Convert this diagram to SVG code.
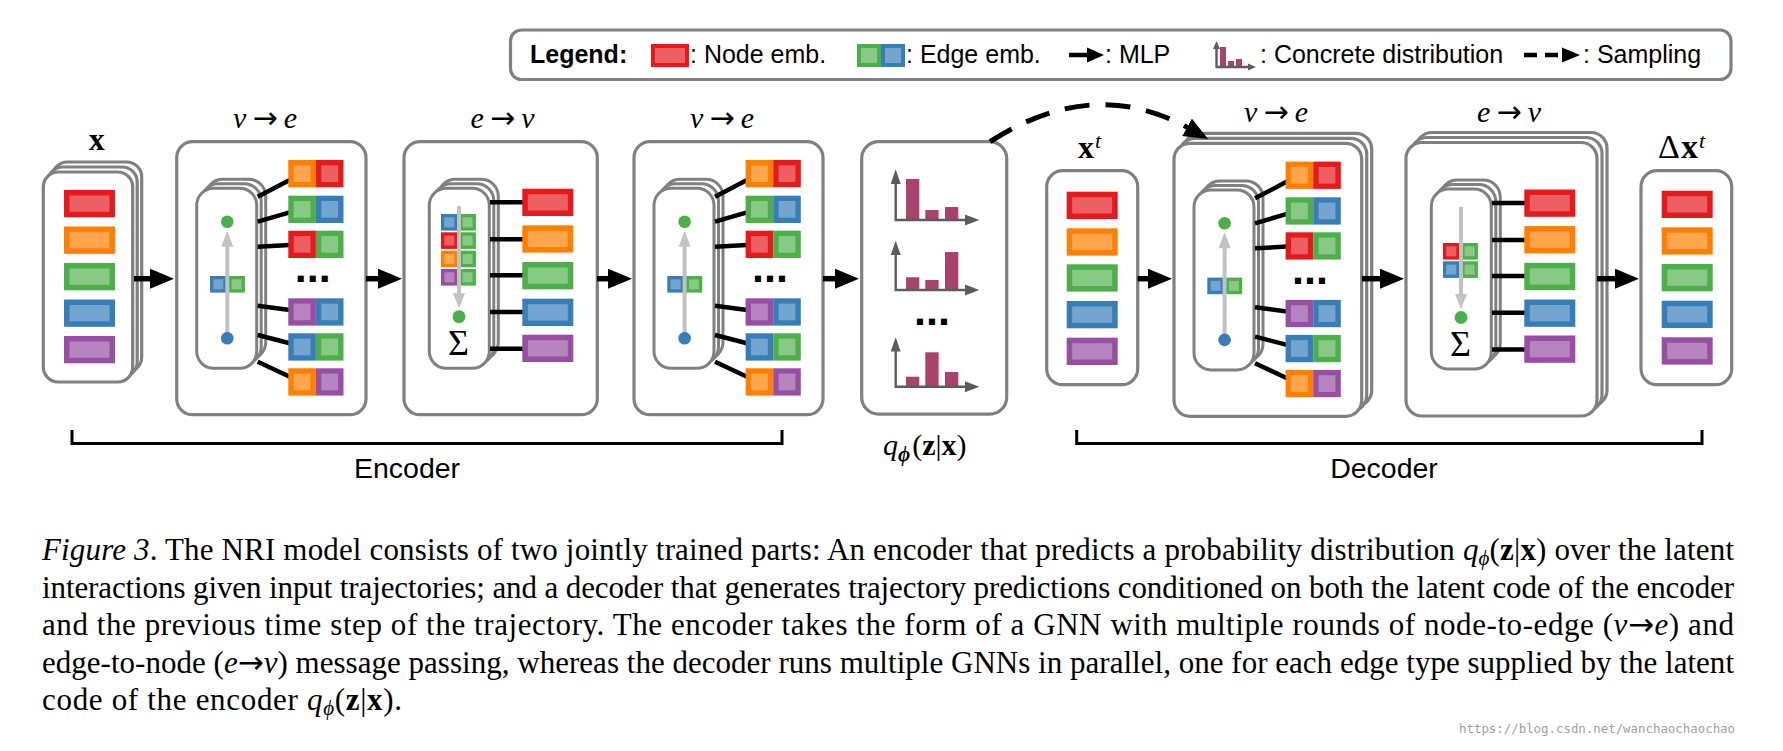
<svg xmlns="http://www.w3.org/2000/svg" width="1783" height="751" viewBox="0 0 1783 751">
<style>
.frame{fill:#fff;stroke:#808080;stroke-width:3.2}
.panel{fill:#fff;stroke:#808080;stroke-width:3}
.wire{stroke:#000;stroke-width:4.5;fill:none}
.mlp{stroke:#000;stroke-width:5.5;fill:none}
.samp{stroke:#000;stroke-width:5;fill:none;stroke-dasharray:25 16}
.gline{stroke:#c2c2c2;stroke-width:4}
.ghead{fill:#c2c2c2}
.ax{stroke:#5c5c5c;stroke-width:2.4;fill:none}
.axh{fill:#5c5c5c}
.bar{fill:#a8436e}
.sans{font-family:"Liberation Sans",Arial,sans-serif}
.serif{font-family:"Liberation Serif","DejaVu Serif",serif}
.it{font-style:italic}
.bf{font-weight:bold}
.arr{font-family:"DejaVu Sans","Liberation Serif",sans-serif;font-style:normal}
.lab{font-family:"Liberation Serif","DejaVu Serif",serif;font-size:30px;text-anchor:middle}
.dots{font-family:"Liberation Sans",Arial,sans-serif;font-weight:bold;font-size:43px;text-anchor:middle}
.sigma{font-family:"Liberation Serif","DejaVu Serif",serif;font-size:36px;text-anchor:middle}
.leg{font-family:"Liberation Sans",Arial,sans-serif;font-size:25px}
.part{font-family:"Liberation Sans",Arial,sans-serif;font-size:28.5px;text-anchor:middle}
.cap{font-family:"Liberation Serif","DejaVu Serif",serif;font-size:31px}
.brk{stroke:#000;stroke-width:3;fill:none}
.cR{fill:#e41a1c}.lR{fill:#ec5f62}
.cO{fill:#ff7f00}.lO{fill:#ffa64f}
.cG{fill:#4daf4a}.lG{fill:#88c986}
.cB{fill:#377eb8}.lB{fill:#73a5cf}
.cP{fill:#984ea3}.lP{fill:#b685bf}
</style>
<defs>
<marker id="ah" markerUnits="userSpaceOnUse" viewBox="0 0 24 20" markerWidth="24" markerHeight="20" refX="2" refY="10" orient="auto"><path d="M0,0 L24,10 L0,20 Z" fill="#000"/></marker>
<g id="nR"><rect class="cR" width="51" height="27.3"/><rect class="lR" x="5.5" y="5.5" width="40" height="16.3"/></g>
<g id="nO"><rect class="cO" width="51" height="27.3"/><rect class="lO" x="5.5" y="5.5" width="40" height="16.3"/></g>
<g id="nG"><rect class="cG" width="51" height="27.3"/><rect class="lG" x="5.5" y="5.5" width="40" height="16.3"/></g>
<g id="nB"><rect class="cB" width="51" height="27.3"/><rect class="lB" x="5.5" y="5.5" width="40" height="16.3"/></g>
<g id="nP"><rect class="cP" width="51" height="27.3"/><rect class="lP" x="5.5" y="5.5" width="40" height="16.3"/></g>
<g id="sR"><rect class="cR" width="27.6" height="27.3"/><rect class="lR" x="5.4" y="5.3" width="16.8" height="16.7"/></g>
<g id="sO"><rect class="cO" width="27.6" height="27.3"/><rect class="lO" x="5.4" y="5.3" width="16.8" height="16.7"/></g>
<g id="sG"><rect class="cG" width="27.6" height="27.3"/><rect class="lG" x="5.4" y="5.3" width="16.8" height="16.7"/></g>
<g id="sB"><rect class="cB" width="27.6" height="27.3"/><rect class="lB" x="5.4" y="5.3" width="16.8" height="16.7"/></g>
<g id="sP"><rect class="cP" width="27.6" height="27.3"/><rect class="lP" x="5.4" y="5.3" width="16.8" height="16.7"/></g>
<g id="tR"><rect class="cR" width="16.6" height="16.6"/><rect class="lR" x="3.3" y="3.3" width="10" height="10"/></g>
<g id="tO"><rect class="cO" width="16.6" height="16.6"/><rect class="lO" x="3.3" y="3.3" width="10" height="10"/></g>
<g id="tG"><rect class="cG" width="16.6" height="16.6"/><rect class="lG" x="3.3" y="3.3" width="10" height="10"/></g>
<g id="tB"><rect class="cB" width="16.6" height="16.6"/><rect class="lB" x="3.3" y="3.3" width="10" height="10"/></g>
<g id="tP"><rect class="cP" width="16.6" height="16.6"/><rect class="lP" x="3.3" y="3.3" width="10" height="10"/></g>
<g id="v2e">
<rect class="panel" x="29" y="37.6" width="60" height="180" rx="17"/>
<rect class="panel" x="24.5" y="42.1" width="60" height="180" rx="17"/>
<rect class="panel" x="20" y="46.6" width="60" height="180" rx="17"/>
<use href="#tB" x="33.3" y="134.3"/>
<use href="#tG" x="51.6" y="134.3"/>
<line class="gline" x1="50.6" y1="196" x2="50.6" y2="104"/>
<path class="ghead" d="M44.6,105 L50.6,89 L56.6,105 Z"/>
<circle class="cG" cx="50.6" cy="80" r="6.3"/>
<circle class="cB" cx="50.6" cy="196.6" r="6.3"/>
<path class="wire" d="M81,55 L113,38.3 M81,80 L113,70.6 M81,105 L113,103.3 M81,164 L113,168.3 M81,193.3 L113,201.6 M81,220 L113,235"/>
<use href="#sO" x="111.6" y="18.3"/><use href="#sR" x="139.2" y="18.3"/>
<use href="#sG" x="111.6" y="54"/><use href="#sB" x="139.2" y="54"/>
<use href="#sR" x="111.6" y="89"/><use href="#sG" x="139.2" y="89"/>
<use href="#sP" x="111.6" y="156.6"/><use href="#sB" x="139.2" y="156.6"/>
<use href="#sB" x="111.6" y="191.6"/><use href="#sG" x="139.2" y="191.6"/>
<use href="#sO" x="111.6" y="226.6"/><use href="#sP" x="139.2" y="226.6"/>
<text class="dots" x="136" y="140.8">...</text>
</g>
<g id="e2vP">
<rect class="panel" x="34.3" y="37.6" width="60" height="180" rx="17"/>
<rect class="panel" x="29.8" y="42.1" width="60" height="180" rx="17"/>
<rect class="panel" x="25.3" y="46.6" width="60" height="180" rx="17"/>
</g>
<g id="e2vT">
<line class="gline" x1="55" y1="64.3" x2="55" y2="152.6"/>
<path class="ghead" d="M49,151.6 L55,166.6 L61,151.6 Z"/>
<circle class="cG" cx="55" cy="175" r="6.5"/>
<text class="sigma" x="54.5" y="213.3">Σ</text>
<path class="wire" d="M86,60.6 H119 M86,97.6 H119 M86,133.6 H119 M86,170.3 H119 M86,207 H119"/>
<use href="#nR" x="118.3" y="47"/>
<use href="#nO" x="118.3" y="83.6"/>
<use href="#nG" x="118.3" y="120.3"/>
<use href="#nB" x="118.3" y="157"/>
<use href="#nP" x="118.3" y="193"/>
</g>
</defs>
<rect width="1783" height="751" fill="#fff"/>

<g id="legend">
<rect class="frame" x="510.5" y="30" width="1220.5" height="49.5" rx="11"/>
<text class="leg bf" x="530" y="63">Legend:</text>
<rect class="cR" x="651" y="44" width="38" height="23"/><rect class="lR" x="655" y="48" width="30" height="15"/>
<text class="leg" x="690" y="63">: Node emb.</text>
<rect class="cG" x="857" y="44" width="24" height="23"/><rect class="lG" x="861" y="48" width="16" height="15"/>
<rect class="cB" x="881" y="44" width="24" height="23"/><rect class="lB" x="885" y="48" width="16" height="15"/>
<text class="leg" x="906" y="63">: Edge emb.</text>
<line x1="1069" y1="55" x2="1089" y2="55" stroke="#000" stroke-width="4.5"/>
<path d="M1087,47.5 L1104,55 L1087,62.5 Z" fill="#000"/>
<text class="leg" x="1105" y="63">: MLP</text>
<rect class="bar" x="1220" y="47" width="6" height="20"/>
<rect class="bar" x="1228" y="61" width="6" height="6"/>
<rect class="bar" x="1236" y="59" width="6" height="8"/>
<path class="ax" d="M1216.5,67 V48 M1215.5,67 H1249"/>
<path class="axh" d="M1213,49 L1216.5,41 L1220,49 Z M1248,63.5 L1256,67 L1248,70.5 Z"/>
<text class="leg" x="1260" y="63">: Concrete distribution</text>
<line x1="1524" y1="55" x2="1560" y2="55" stroke="#000" stroke-width="4.5" stroke-dasharray="13 8"/>
<path d="M1562,47.5 L1580,55 L1562,62.5 Z" fill="#000"/>
<text class="leg" x="1583" y="63">: Sampling</text>
</g>

<g id="input-x">
<text class="serif bf" x="96.7" y="150" font-size="32" text-anchor="middle">x</text>
<rect class="frame" x="52.3" y="162" width="89.4" height="210" rx="15"/>
<rect class="frame" x="47.8" y="167" width="89.4" height="210" rx="15"/>
<rect class="frame" x="43.3" y="172" width="89.4" height="210" rx="15"/>
<use href="#nR" x="64" y="190"/>
<use href="#nO" x="64" y="226.5"/>
<use href="#nG" x="64" y="263"/>
<use href="#nB" x="64" y="299.5"/>
<use href="#nP" x="64" y="336"/>
</g>

<g id="enc-v2e-1">
<text class="lab" x="265" y="128" textLength="64" lengthAdjust="spacing"><tspan class="it">v</tspan><tspan class="arr">→</tspan><tspan class="it">e</tspan></text>
<g transform="translate(176.7,141.7)">
<rect class="frame" x="0" y="0" width="189.3" height="273" rx="16"/>
<use href="#v2e"/>
</g>
</g>

<g id="enc-e2v">
<text class="lab" x="502.5" y="128" textLength="64" lengthAdjust="spacing"><tspan class="it">e</tspan><tspan class="arr">→</tspan><tspan class="it">v</tspan></text>
<g transform="translate(404,141.7)">
<rect class="frame" x="0" y="0" width="193.3" height="273" rx="16"/>
<use href="#e2vP"/>
<use href="#tB" x="37" y="72.3"/><use href="#tG" x="55.3" y="72.3"/>
<use href="#tR" x="37" y="90.6"/><use href="#tG" x="55.3" y="90.6"/>
<use href="#tO" x="37" y="109"/><use href="#tG" x="55.3" y="109"/>
<use href="#tP" x="37" y="127.3"/><use href="#tG" x="55.3" y="127.3"/>
<use href="#e2vT"/>
</g>
</g>

<g id="enc-v2e-2">
<text class="lab" x="722" y="128" textLength="64" lengthAdjust="spacing"><tspan class="it">v</tspan><tspan class="arr">→</tspan><tspan class="it">e</tspan></text>
<g transform="translate(634,141.7)">
<rect class="frame" x="0" y="0" width="189" height="273" rx="16"/>
<use href="#v2e"/>
</g>
</g>

<g id="latent-dist">
<rect class="frame" x="861.7" y="141.7" width="145" height="272.5" rx="17"/>
<rect class="bar" x="906" y="179" width="13.3" height="41"/>
<rect class="bar" x="925.3" y="210" width="13.3" height="10"/>
<rect class="bar" x="945" y="207" width="13.3" height="13"/>
<path class="ax" d="M895.7,221 V183 M894.5,220 H966"/>
<path class="axh" d="M890.7,184 L895.7,169.3 L900.7,184 Z M965,214.5 L979.3,220 L965,225.5 Z"/>
<rect class="bar" x="906" y="277.3" width="13.3" height="12.7"/>
<rect class="bar" x="925.3" y="280" width="13.3" height="10"/>
<rect class="bar" x="945" y="252" width="13.3" height="38"/>
<path class="ax" d="M895.7,291 V254 M894.5,290 H966"/>
<path class="axh" d="M890.7,255 L895.7,240.7 L900.7,255 Z M965,284.5 L979.3,290 L965,295.5 Z"/>
<text class="dots" x="932" y="325">...</text>
<rect class="bar" x="906" y="376.7" width="13.3" height="10"/>
<rect class="bar" x="925.3" y="352.3" width="13.3" height="34.4"/>
<rect class="bar" x="945" y="372" width="13.3" height="14.7"/>
<path class="ax" d="M895.7,387.7 V350.5 M894.5,386.7 H966"/>
<path class="axh" d="M890.7,351.5 L895.7,337.3 L900.7,351.5 Z M965,381.2 L979.3,386.7 L965,392.2 Z"/>
<text class="serif" x="883" y="455" font-size="30"><tspan class="it">q</tspan><tspan class="it bf" font-size="21" dy="6">ϕ</tspan><tspan dy="-6" dx="2">(</tspan><tspan class="bf">z</tspan>|<tspan class="bf">x</tspan>)</text>
</g>

<g id="input-xt">
<text class="serif" x="1078" y="158.3" font-size="32"><tspan class="bf">x</tspan><tspan class="it" font-size="22" dx="1" dy="-10.3">t</tspan></text>
<rect class="frame" x="1046.7" y="170.7" width="91" height="214" rx="16"/>
<use href="#nR" x="1066.7" y="191.7"/>
<use href="#nO" x="1066.7" y="228.3"/>
<use href="#nG" x="1066.7" y="264.3"/>
<use href="#nB" x="1066.7" y="301"/>
<use href="#nP" x="1066.7" y="337.7"/>
</g>

<g id="dec-v2e">
<text class="lab" x="1276" y="121.7" textLength="64" lengthAdjust="spacing"><tspan class="it">v</tspan><tspan class="arr">→</tspan><tspan class="it">e</tspan></text>
<g transform="translate(1174,143.3)">
<rect class="frame" x="10" y="-10" width="187.7" height="273" rx="16"/>
<rect class="frame" x="5" y="-5" width="187.7" height="273" rx="16"/>
<rect class="frame" x="0" y="0" width="187.7" height="273" rx="16"/>
<use href="#v2e"/>
</g>
</g>

<g id="dec-e2v">
<text class="lab" x="1509" y="121.7" textLength="64" lengthAdjust="spacing"><tspan class="it">e</tspan><tspan class="arr">→</tspan><tspan class="it">v</tspan></text>
<g transform="translate(1406,142.5)">
<rect class="frame" x="10" y="-10" width="191" height="273.5" rx="16"/>
<rect class="frame" x="5" y="-5" width="191" height="273.5" rx="16"/>
<rect class="frame" x="0" y="0" width="191" height="273.5" rx="16"/>
<use href="#e2vP"/>
<use href="#tR" x="37" y="100.5"/><use href="#tG" x="55.3" y="100.5"/>
<use href="#tB" x="37" y="118.8"/><use href="#tG" x="55.3" y="118.8"/>
<use href="#e2vT"/>
</g>
</g>

<g id="output-dxt">
<text class="serif" x="1658" y="158.3" font-size="34">Δ<tspan class="bf" dx="1">x</tspan><tspan class="it" font-size="22" dx="1" dy="-10.3">t</tspan></text>
<rect class="frame" x="1641" y="170.7" width="90.7" height="214" rx="16"/>
<use href="#nR" x="1661.7" y="190.7"/>
<use href="#nO" x="1661.7" y="227.3"/>
<use href="#nG" x="1661.7" y="264"/>
<use href="#nB" x="1661.7" y="300.7"/>
<use href="#nP" x="1661.7" y="337.3"/>
</g>

<g id="encoder-bracket">
<path class="brk" d="M72,430 V443.5 H782 V430"/>
<text class="part" x="407" y="478">Encoder</text>
</g>
<g id="decoder-bracket">
<path class="brk" d="M1076.7,430 V443.5 H1702 V430"/>
<text class="part" x="1384" y="478">Decoder</text>
</g>

<g id="connectors">
<path class="mlp" d="M134,278.7 H152" marker-end="url(#ah)"/>
<path class="mlp" d="M366,278.7 H380" marker-end="url(#ah)"/>
<path class="mlp" d="M597,278.7 H610" marker-end="url(#ah)"/>
<path class="mlp" d="M823,278.7 H837" marker-end="url(#ah)"/>
<path class="mlp" d="M1137.5,278.7 H1150" marker-end="url(#ah)"/>
<path class="mlp" d="M1362,278.7 H1382" marker-end="url(#ah)"/>
<path class="mlp" d="M1597,278.7 H1617" marker-end="url(#ah)"/>
<path class="samp" d="M990,141.7 Q1093,75 1188.8,128.3" marker-end="url(#ah)"/>
</g>

<g id="caption">
<text class="cap" x="42" y="560" textLength="1692" lengthAdjust="spacing"><tspan class="it">Figure 3</tspan>. The NRI model consists of two jointly trained parts: An encoder that predicts a probability distribution <tspan class="it">q</tspan><tspan class="it" font-size="21" dy="5">ϕ</tspan><tspan dy="-5">(</tspan><tspan class="bf">z</tspan>|<tspan class="bf">x</tspan>) over the latent</text>
<text class="cap" x="42" y="597.5" textLength="1692" lengthAdjust="spacing">interactions given input trajectories; and a decoder that generates trajectory predictions conditioned on both the latent code of the encoder</text>
<text class="cap" x="42" y="635" textLength="1692" lengthAdjust="spacing">and the previous time step of the trajectory.  The encoder takes the form of a GNN with multiple rounds of node-to-edge (<tspan class="it">v</tspan><tspan class="arr">→</tspan><tspan class="it">e</tspan>) and</text>
<text class="cap" x="42" y="672.5" textLength="1692" lengthAdjust="spacing">edge-to-node (<tspan class="it">e</tspan><tspan class="arr">→</tspan><tspan class="it">v</tspan>) message passing, whereas the decoder runs multiple GNNs in parallel, one for each edge type supplied by the latent</text>
<text class="cap" x="42" y="710" textLength="360" lengthAdjust="spacing">code of the encoder <tspan class="it">q</tspan><tspan class="it" font-size="21" dy="5">ϕ</tspan><tspan dy="-5">(</tspan><tspan class="bf">z</tspan>|<tspan class="bf">x</tspan>).</text>
</g>

<g id="watermark">
<text x="1459" y="733" font-family="'DejaVu Sans Mono','Liberation Mono',monospace" font-size="12.4" fill="#a0a0a0">https://blog.csdn.net/wanchaochaochao</text>
</g>
</svg>
